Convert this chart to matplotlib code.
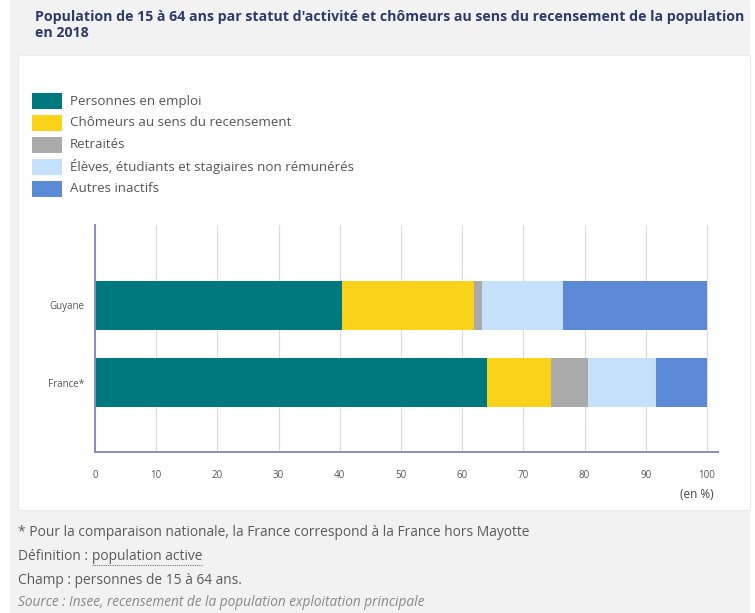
import matplotlib
matplotlib.use("Agg")
import matplotlib.pyplot as plt
from matplotlib.patches import Rectangle

plt.rcParams['font.family'] = ['Open Sans', 'DejaVu Sans']

# data (en %)
territoires = ["France*", "Guyane"]
categories = ["Personnes en emploi", "Chômeurs au sens du recensement", "Retraités",
              "Élèves, étudiants et stagiaires non rémunérés", "Autres inactifs"]
emploi = [64.1, 40.4]
chomeurs = [10.4, 21.5]
retraites = [6.1, 1.4]
eleves = [11.0, 13.1]
autres = [8.4, 23.6]
couleurs = ["#00797e", "#f9d21a", "#aaaaaa", "#c4e0fa", "#5b8bd6"]
xticks = [0, 10, 20, 30, 40, 50, 60, 70, 80, 90, 100]

W, H = 755, 613
fig = plt.figure(figsize=(W / 100, H / 100), dpi=100)
fig.patch.set_facecolor("white")

# gray background and white panel
fig.patches.append(Rectangle((10 / W, 0), 740 / W, 1, transform=fig.transFigure,
                             facecolor="#f2f2f2", edgecolor="none", zorder=0))
fig.patches.append(Rectangle((18 / W, 1 - 510 / H), 732 / W, 455 / H, transform=fig.transFigure,
                             facecolor="white", edgecolor="#ebebeb", lw=0.8, zorder=0))

# title
fig.text(35 / W, 1 - 17 / H, "Population de 15 à 64 ans par statut d'activité et chômeurs au sens du recensement de la population",
         fontsize=10.2, fontweight="bold", color="#2c3b68", va="center")
fig.text(35 / W, 1 - 33 / H, "en 2018", fontsize=10.2, fontweight="bold", color="#2c3b68", va="center")

# legend
for i, (lab, col) in enumerate(zip(categories, couleurs)):
    yc = 101 + i * 22
    fig.patches.append(Rectangle((32 / W, 1 - (yc + 8) / H), 30 / W, 16 / H,
                                 transform=fig.transFigure, facecolor=col, edgecolor="none"))
    fig.text(70 / W, 1 - yc / H, lab, fontsize=9.6, color="#555555", va="center")

ax = fig.add_axes([95 / W, 1 - 452 / H, 623 / W, 227 / H])
ax.set_zorder(2)
series = [emploi, chomeurs, retraites, eleves, autres]
left = [0, 0]
for vals, col in zip(series, couleurs):
    ax.barh(territoires, vals, left=left, height=0.63, color=col, edgecolor="none", zorder=2)
    left = [l + v for l, v in zip(left, vals)]

ax.set_xlim(0, 101.8)
ax.set_ylim(-0.89, 2.03)
ax.set_xticks(xticks)
ax.set_xticklabels([str(t) for t in xticks])
ax.grid(axis="x", color="#d9d9e6", lw=0.8, zorder=1)
ax.set_axisbelow(True)
for s in ["top", "right"]:
    ax.spines[s].set_visible(False)
ax.spines["left"].set_color("#8a8cc0")
ax.spines["bottom"].set_color("#8a8cc0")
ax.spines["left"].set_linewidth(1.4)
ax.spines["bottom"].set_linewidth(1.4)
ax.tick_params(axis="both", length=0, labelsize=7, labelcolor="#555555")
ax.tick_params(axis="x", pad=13)
ax.tick_params(axis="y", pad=8)
ax.set_facecolor("white")

fig.text(697 / W, 1 - 494 / H, "(en %)", fontsize=8.5, color="#444444", ha="center", va="center")

# footer
fs = 9.9
fig.text(18 / W, 1 - 532 / H, "* Pour la comparaison nationale, la France correspond à la France hors Mayotte",
         fontsize=fs, color="#5a5a5a", va="center")
t1 = fig.text(18 / W, 1 - 556 / H, "Définition : ", fontsize=fs, color="#5a5a5a", va="center")
fig.canvas.draw()
bb = t1.get_window_extent()
t2 = fig.text(bb.x1 / W, 1 - 556 / H, "population active", fontsize=fs, color="#5a5a5a", va="center")
fig.canvas.draw()
bb2 = t2.get_window_extent()
fig.lines.append(plt.Line2D([bb2.x0 / W, bb2.x1 / W], [(H - 565) / H, (H - 565) / H],
                            transform=fig.transFigure, color="#777777", lw=0.8, ls=(0, (1, 1))))
fig.text(18 / W, 1 - 580 / H, "Champ : personnes de 15 à 64 ans.", fontsize=fs, color="#5a5a5a", va="center")
fig.text(18 / W, 1 - 603 / H, "Source : Insee, recensement de la population exploitation principale",
         fontsize=9.8, color="#888888", style="italic", va="center")

fig.savefig("out.png", dpi=100, facecolor=fig.get_facecolor())
